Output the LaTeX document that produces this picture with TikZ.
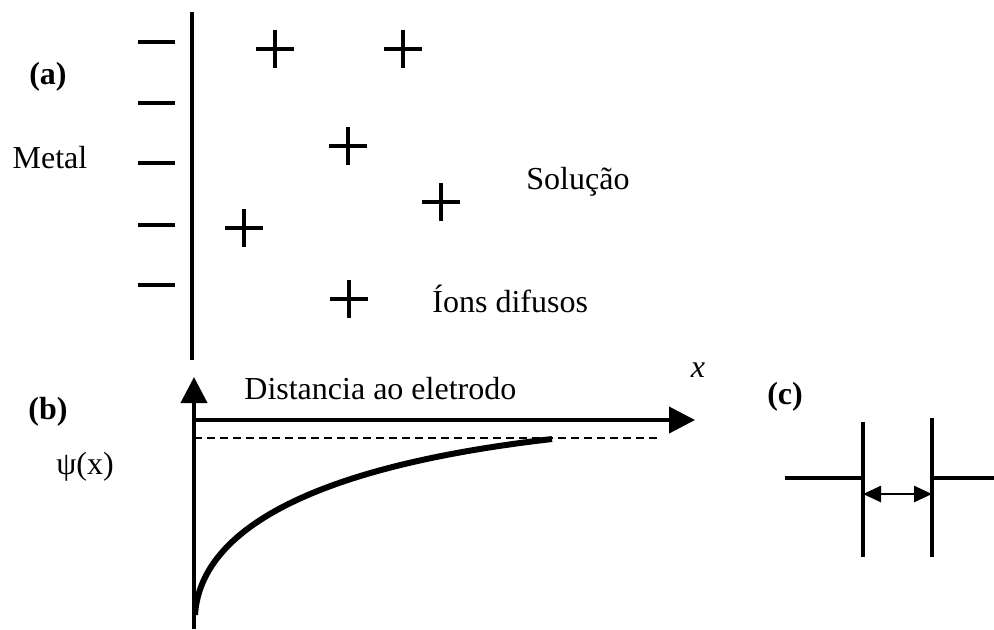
\documentclass[tikz,border=0pt]{standalone}
\usepackage{fontspec}
\setmainfont{Liberation Serif}
\usetikzlibrary{arrows.meta}
\begin{document}
\begin{tikzpicture}[x=0.5pt,y=-0.5pt,
  lbl/.style={inner sep=0pt,font=\fontsize{16}{19}\selectfont},
  blbl/.style={inner sep=0pt,font=\fontsize{16}{19}\selectfont\bfseries},
  charge/.style={line width=2.1pt},
  plate/.style={line width=1.6pt},
  axis/.style={line width=2pt,-{Triangle[length=13pt,width=13pt]}},
  curve/.style={line width=3pt},
  asym/.style={line width=1pt,dash pattern=on 4pt off 2.5pt}]
\useasboundingbox (0,0) rectangle (994,629);
% (a)
\node[blbl] (la) at (48,77) {(a)};
\node[lbl] (metal) at (50,158) {Metal};
\node[lbl,anchor=west] (sol) at (526,182) {Solução};
\node[lbl,anchor=west] (ions) at (432,299) {Íons difusos};
\coordinate (mtop) at (192,12);
\coordinate (mbot) at (192,360);
\draw[plate] (mtop) -- (mbot);
\foreach \y in {42,103,163,225,285}
  \draw[charge] (138,\y) -- (175,\y);
\foreach \x/\y in {275/49,403/49,348/146,441/202,244/228,349/299}
  \draw[charge] (\x-19,\y) -- (\x+19,\y) (\x,\y-19) -- (\x,\y+19);
% (b)
\node[blbl] (lb) at (48,412) {(b)};
\node[lbl] (psi) at (85,467) {ψ(x)};
\node[lbl,anchor=west] (dist) at (244,389) {Distancia ao eletrodo};
\node[lbl,font=\fontsize{16}{19}\selectfont\itshape] (xl) at (698,370) {x};
\coordinate (o) at (194,629);
\coordinate (ytip) at (194,377);
\coordinate (x0) at (194,420);
\coordinate (xtip) at (695,420);
\coordinate (d0) at (194,438);
\coordinate (d1) at (660,438);
\draw[axis] (o) -- (ytip);
\draw[axis] (x0) -- (xtip);
\draw[asym] (d0) -- (d1);
\draw[curve] (195,615) .. controls (200,535) and (300,468) .. (552,439);
% (c)
\node[blbl] (lc) at (785,397) {(c)};
\coordinate (p1t) at (863,422);
\coordinate (p1b) at (863,557);
\coordinate (p2t) at (932,418);
\coordinate (p2b) at (932,557);
\coordinate (w1) at (785,478);
\coordinate (w1e) at (863,478);
\coordinate (w2) at (932,478);
\coordinate (w2e) at (994,478);
\coordinate (a1) at (863,494);
\coordinate (a2) at (932,494);
\draw[plate] (p1t) -- (p1b);
\draw[plate] (p2t) -- (p2b);
\draw[plate] (w1) -- (w1e);
\draw[plate] (w2) -- (w2e);
\draw[line width=1.3pt,{Triangle[length=9pt,width=8pt]}-{Triangle[length=9pt,width=8pt]}] (a1) -- (a2);
\end{tikzpicture}
\end{document}
